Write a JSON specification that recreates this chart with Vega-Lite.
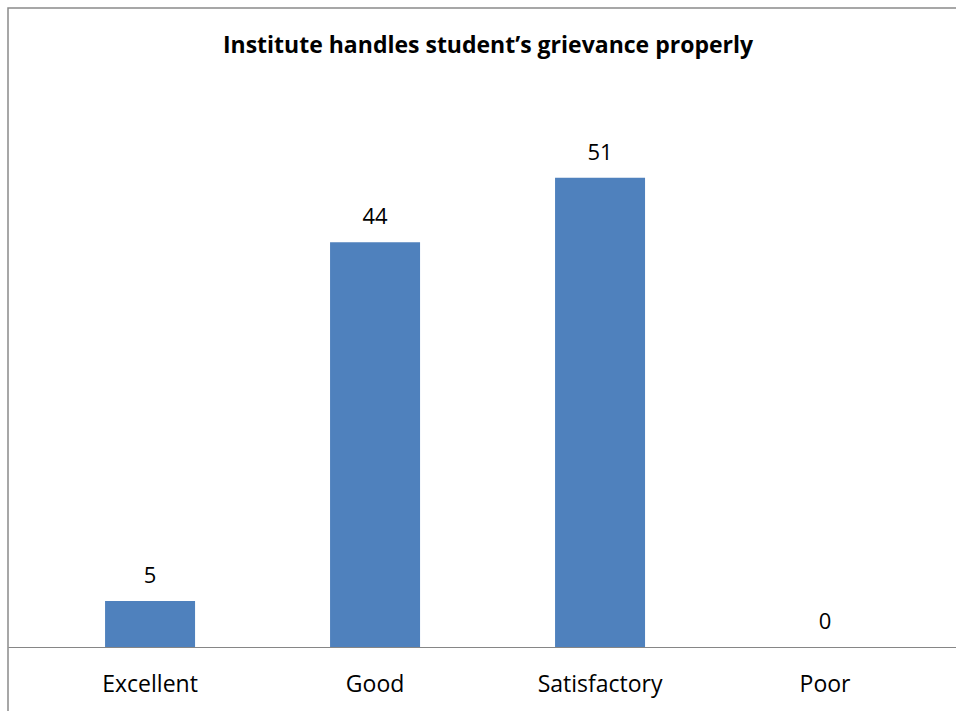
{
  "$schema": "https://vega.github.io/schema/vega-lite/v6.json",
  "autosize": {"type": "none"},
  "padding": {"left": 8, "top": 8, "right": -4, "bottom": -4},
  "width": 952,
  "height": 707,
  "background": "white",
  "title": {
    "text": "Institute handles student’s grievance properly",
    "font": "Open Sans",
    "fontWeight": "bold",
    "fontSize": 23,
    "color": "black",
    "baseline": "alphabetic",
    "anchor": "middle",
    "dx": 4,
    "offset": -68
  },
  "data": {
    "values": [
      {"rating": "Excellent", "count": 5},
      {"rating": "Good", "count": 44},
      {"rating": "Satisfactory", "count": 51},
      {"rating": "Poor", "count": 0}
    ]
  },
  "encoding": {
    "x": {
      "field": "rating",
      "type": "nominal",
      "sort": null,
      "scale": {"paddingInner": 0.6, "paddingOuter": 0.4156, "align": 0.519},
      "axis": {
        "title": null,
        "labelAngle": 0,
        "ticks": false,
        "tickSize": 0,
        "domainColor": "#868686",
        "domainWidth": 1.2,
        "offset": -68,
        "labelPadding": 44,
        "labelBaseline": "alphabetic",
        "labelFont": "Open Sans",
        "labelFontSize": 23,
        "labelColor": "black"
      }
    },
    "y": {
      "field": "count",
      "type": "quantitative",
      "scale": {"domain": [-7.39, 69.46], "nice": false, "zero": false},
      "axis": null
    }
  },
  "layer": [
    {
      "mark": {"type": "bar", "color": "#4F81BD"},
      "encoding": {"y2": {"datum": 0}}
    },
    {
      "mark": {"type": "text", "baseline": "alphabetic", "dy": -18, "font": "Open Sans", "fontSize": 22, "color": "black"},
      "encoding": {"text": {"field": "count", "type": "quantitative"}}
    }
  ],
  "config": {
    "view": {"stroke": "#8a8a8a", "strokeWidth": 1.5}
  }
}
